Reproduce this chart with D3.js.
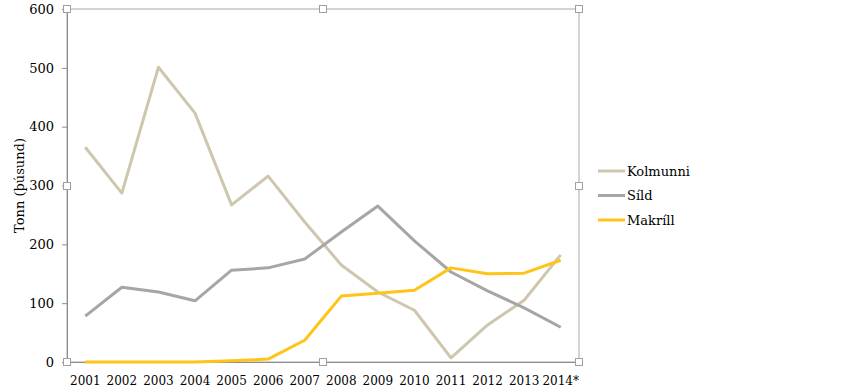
<!DOCTYPE html>
<html><head><meta charset="utf-8">
<script src="https://cdn.jsdelivr.net/npm/d3@7"></script>
<style>body{margin:0;background:#fff}svg{display:block}text{font-family:"DejaVu Serif","Liberation Serif",serif;fill:#000}</style>
</head><body><svg id="c" width="846" height="392"></svg>
<script>
const years = ["2001","2002","2003","2004","2005","2006","2007","2008","2009","2010","2011","2012","2013","2014*"];
const kolmunni = [365,287,501,423,267,316,238,165,119,88,7,63,105,182];
const sild = [78,127,119,104,156,160,175,221,265,206,153,121,92,59];
const makrill = [0,0,0,0,2,5,37,112,117,122,160,150,151,173];
const yTicks = [0,100,200,300,400,500,600];
const seriesNames = ["Kolmunni","Síld","Makríll"];
const seriesColors = ["#CEC7AE","#A6A6A6","#FFC418"];
const seriesData = [kolmunni, sild, makrill];

const svg = d3.select("#c");
const L=67,R=579,T=9,B=362;
const x = d3.scaleBand().domain(years).range([L,R]);
const y = d3.scaleLinear().domain([0,600]).range([B,T]);

// frame
svg.append("rect").attr("x",L).attr("y",T).attr("width",R-L).attr("height",B-T)
  .attr("fill","none").attr("stroke","#A8A8A8").attr("stroke-width",1);

// y axis
const ya = svg.append("g").attr("transform",`translate(${L},0)`)
  .call(d3.axisLeft(y).tickValues(yTicks).tickSize(5).tickPadding(8).tickFormat(d3.format("d")));
ya.select(".domain").attr("stroke","#8C8C8C");
ya.selectAll(".tick line").attr("stroke","#8C8C8C");
ya.selectAll("text").attr("font-size",13).attr("font-family","DejaVu Serif");

// x axis
const xa = svg.append("g").attr("transform",`translate(0,${B})`)
  .call(d3.axisBottom(x).tickSize(0).tickPadding(14));
xa.select(".domain").attr("stroke","#8C8C8C");
xa.selectAll("text").attr("font-size",12).attr("font-family","DejaVu Serif");

// y title
svg.append("text").attr("transform",`translate(24,${(T+B)/2}) rotate(-90)`)
  .attr("text-anchor","middle").attr("font-size",13).text("Tonn (þúsund)");

// lines
const line = d3.line().x((d,i)=>x(years[i])+x.bandwidth()/2).y(d=>y(d));
seriesData.forEach((s,k)=>{
  svg.append("path").datum(s).attr("d",line).attr("fill","none")
    .attr("stroke",seriesColors[k]).attr("stroke-width",3).attr("stroke-linejoin","round");
});

// handles
const hx=[L,(L+R)/2,R], hy=[T,(T+B)/2,B];
hx.forEach(a=>hy.forEach(b=>{
  if(a===(L+R)/2 && b===(T+B)/2) return;
  svg.append("rect").attr("x",Math.round(a)-3.5).attr("y",Math.round(b)-3.5).attr("width",7).attr("height",7)
    .attr("fill","#fff").attr("stroke","#A0A0A0").attr("stroke-width",1);
}));

// legend
const leg = svg.append("g");
seriesNames.forEach((n,k)=>{
  const ly = 171 + k*24.5;
  leg.append("line").attr("x1",598).attr("x2",625).attr("y1",ly).attr("y2",ly)
    .attr("stroke",seriesColors[k]).attr("stroke-width",3);
  leg.append("text").attr("x",627).attr("y",ly+4.5).attr("font-size",13).text(n);
});
</script></body></html>
